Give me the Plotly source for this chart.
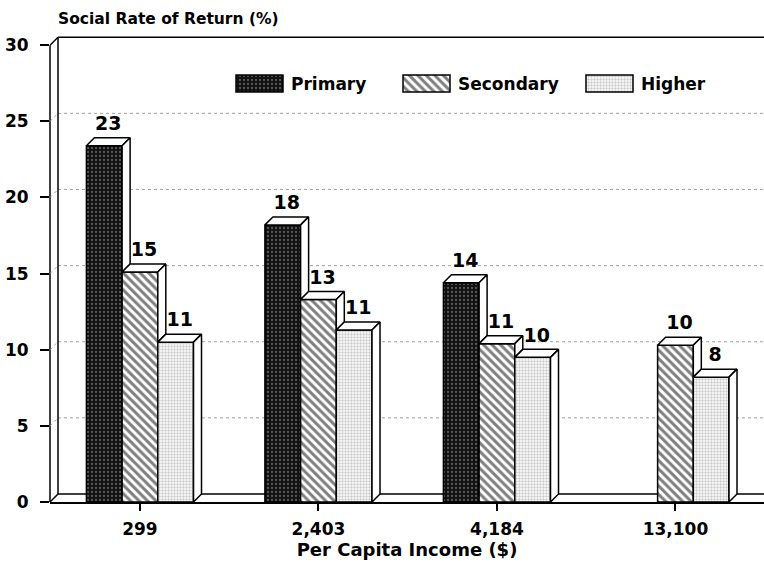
import plotly.graph_objects as go

# Data (social rate of return, % by per capita income group)
income_labels = ["299", "2,403", "4,184", "13,100"]
primary = [23.4, 18.2, 14.4, None]
secondary = [15.1, 13.3, 10.4, 10.3]
higher = [10.5, 11.3, 9.5, 8.2]
primary_text = ["23", "18", "14", ""]
secondary_text = ["15", "13", "11", "10"]
higher_text = ["11", "11", "10", "8"]
y_ticks = [0, 5, 10, 15, 20, 25, 30]

FONT = "DejaVu Sans"
XL, XR = -0.504, 3.496
YMAX = 31
W = 0.2
DX = 8 / 178.5   # depth offset in x units
DY = 8 / 15.226  # depth offset in y units
LABEL_PAD = 3 / 15.226

patterns = {
    "Primary": dict(shape=".", bgcolor="#111111", fgcolor="#a0a0a0", size=4, solidity=0.25),
    "Secondary": dict(shape="\\", bgcolor="white", fgcolor="black", size=6, solidity=0.5),
    "Higher": dict(shape=".", bgcolor="white", fgcolor="#9a9a9a", size=3, solidity=0.5),
}

series = [
    ("Primary", primary, primary_text),
    ("Secondary", secondary, secondary_text),
    ("Higher", higher, higher_text),
]
groups = list(range(len(income_labels)))

fig = go.Figure()


def frame_line(x0, y0, x1, y1, dash="solid", color="black", width=1.5):
    fig.add_shape(type="line", x0=x0, y0=y0, x1=x1, y1=y1, layer="below",
                  line=dict(color=color, width=width, dash=dash))


# back wall gridlines and side-wall diagonals
for v in y_ticks[1:-1]:
    frame_line(XL + DX, v + DY, XR, v + DY, dash="dot", color="#a0a0a0", width=1)
    frame_line(XL, v, XL + DX, v + DY, dash="dot", color="#a0a0a0", width=1)

# box frame
frame_line(XL + DX, DY, XR, DY)
frame_line(XL, 0, XL + DX, DY)
frame_line(XL + DX, DY, XL + DX, 30 + DY)
frame_line(XL, 30, XL + DX, 30 + DY)
frame_line(XL + DX, 30 + DY, XR, 30 + DY)
fig.add_shape(type="line", xref="paper", x0=0, x1=0, y0=0, y1=30, layer="below",
              line=dict(color="black", width=1.5))

# front faces
for k, (name, vals, texts) in enumerate(series):
    fig.add_trace(go.Bar(
        x=groups, y=vals, name=name, width=W, offset=-0.3 + W * k,
        marker=dict(pattern=patterns[name], line=dict(color="black", width=1.5)),
        showlegend=False, hoverinfo="skip",
    ))


def face(xs, ys):
    fig.add_trace(go.Scatter(
        x=xs, y=ys, mode="lines", fill="toself", fillcolor="white",
        line=dict(color="black", width=1.5), showlegend=False, hoverinfo="skip",
    ))


# top and side faces
for g in groups:
    for k, (name, vals, texts) in enumerate(series):
        h = vals[g]
        if h is None:
            continue
        left = g - 0.3 + W * k
        right = left + W
        face([left, right, right + DX, left + DX, left], [h, h, h + DY, h + DY, h])
        nxt = series[k + 1][1][g] if k < len(series) - 1 else None
        c = nxt if nxt is not None else 0
        if c < h:
            face([right, right + DX, right + DX, right, right], [c, c + DY, h + DY, h, c])

# value labels
for k, (name, vals, texts) in enumerate(series):
    xs = [g - 0.2 + W * k + DX / 2 for g in groups]
    ys = [v + DY + LABEL_PAD if v is not None else None for v in vals]
    fig.add_trace(go.Scatter(
        x=xs, y=ys, mode="text", text=texts, textposition="top center",
        textfont=dict(family=FONT, size=19, color="black", weight="bold"),
        cliponaxis=False, showlegend=False, hoverinfo="skip",
    ))

# legend boxes (pixel axes)
legend_box_x = [236, 403, 586]
legend_box_w = 47
for (name, vals, texts), bx in zip(series, legend_box_x):
    fig.add_trace(go.Bar(
        x=[bx + legend_box_w / 2], y=[17], base=[75], width=[legend_box_w],
        xaxis="x2", yaxis="y2",
        marker=dict(pattern=patterns[name], line=dict(color="black", width=1.5)),
        showlegend=False, hoverinfo="skip",
    ))
    fig.add_annotation(x=bx + legend_box_w + 6, y=83.5, xref="x2", yref="y2",
                       text=name, showarrow=False, xanchor="left", yanchor="middle",
                       font=dict(family=FONT, size=17, color="black", weight="bold"))

fig.update_layout(
    width=764, height=568,
    margin=dict(l=50, r=0, t=30, b=66),
    barmode="overlay",
    plot_bgcolor="white", paper_bgcolor="white",
    title=dict(text="Social Rate of Return (%)", x=58 / 764, xanchor="left",
               y=1 - 19 / 568, yanchor="middle",
               font=dict(family=FONT, size=15.5, color="black", weight="bold")),
    xaxis=dict(
        range=[XL, XR], tickvals=groups, ticktext=income_labels, automargin=False,
        showline=True, linecolor="black", linewidth=1.5,
        ticks="outside", ticklen=7, tickwidth=1.5, tickcolor="black",
        showgrid=False, zeroline=False, ticklabelstandoff=4,
        tickfont=dict(family=FONT, size=17, color="black", weight="bold"),
        title=dict(text="Per Capita Income ($)", standoff=4,
                   font=dict(family=FONT, size=18, color="black", weight="bold")),
    ),
    yaxis=dict(
        range=[0, YMAX], tickvals=y_ticks, showgrid=False, zeroline=False, automargin=False,
        showline=False, ticks="outside", ticklen=9, tickwidth=1.5, tickcolor="black",
        ticklabelstandoff=8,
        tickfont=dict(family=FONT, size=17, color="black", weight="bold"),
    ),
    xaxis2=dict(overlaying="x", range=[50, 764], visible=False),
    yaxis2=dict(overlaying="y", range=[502, 30], visible=False),
)

# page body has a default 8px margin; remove it so the figure fills the window
fig.write_html("out.html", config={"displayModeBar": False},
               post_script="document.body.style.margin='0';")
